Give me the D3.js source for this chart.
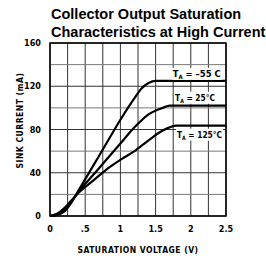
<!DOCTYPE html>
<html>
<head>
<meta charset="utf-8">
<script src="https://cdn.jsdelivr.net/npm/d3@7"></script>
<style>
  body { margin: 0; background: #fff; }
  text { font-family: "Liberation Sans Narrow", "DejaVu Sans Condensed", sans-serif; font-weight: bold; }
  .title { font-family: "Liberation Sans", Arial, sans-serif; }
</style>
</head>
<body>
<div id="chart"></div>
<script>
// values
var volts_m55 = [0, 0.1, 0.2, 0.3, 0.4, 0.6, 0.8, 1.0, 1.2, 1.3, 1.4, 1.5, 2.5];
var amps_m55  = [0, 1, 4, 12, 23, 45, 67, 89, 109, 118, 123, 125, 125];
var volts_25  = [0, 0.1, 0.2, 0.3, 0.4, 0.6, 0.8, 1.0, 1.2, 1.4, 1.6, 1.7, 2.5];
var amps_25   = [0, 1, 5, 13, 22, 37, 52, 67, 82, 94, 100, 102, 102];
var volts_125 = [0, 0.1, 0.2, 0.3, 0.4, 0.6, 0.8, 1.0, 1.2, 1.4, 1.6, 1.8, 2.5];
var amps_125  = [0, 2, 7, 14, 21, 32, 43, 52, 60, 70, 79, 83.5, 83.5];

var xTicks = [0, 0.5, 1, 1.5, 2, 2.5];
var xTickLabels = ["0", ".5", "1", "1.5", "2", "2.5"];
var yTicks = [0, 40, 80, 120, 160];
var seriesNames = ["\u201355  C", "25\u00b0C", "125\u00b0C"];

var margin = {top: 43, right: 40, bottom: 44, left: 50},
    width = 266 - margin.left - margin.right,
    height = 260 - margin.top - margin.bottom;

var svg = d3.select("#chart").append("svg")
    .attr("width", 266)
    .attr("height", 260);

// title
svg.append("text").attr("class", "title")
    .attr("x", 51).attr("y", 19)
    .style("font-size", "14.5px")
    .text("Collector Output Saturation");
svg.append("text").attr("class", "title")
    .attr("x", 51).attr("y", 37)
    .style("font-size", "14.5px")
    .text("Characteristics at High Current");

var g = svg.append("g")
    .attr("transform", "translate(" + margin.left + "," + margin.top + ")");

var x = d3.scaleLinear().domain([0, 2.5]).range([0, width]);
var y = d3.scaleLinear().domain([0, 160]).range([height, 0]);

// grid
g.selectAll(".vgrid")
    .data(d3.range(0, 2.51, 0.25))
    .enter().append("line")
    .attr("x1", function(d) { return x(d); })
    .attr("x2", function(d) { return x(d); })
    .attr("y1", 0).attr("y2", height)
    .style("stroke", "#333").style("stroke-width", 1);

g.selectAll(".hgrid")
    .data(d3.range(0, 161, 20))
    .enter().append("line")
    .attr("y1", function(d) { return y(d); })
    .attr("y2", function(d) { return y(d); })
    .attr("x1", 0).attr("x2", width)
    .style("stroke", function(d) { return d % 40 ? "#777" : "#333"; })
    .style("stroke-width", 1);

g.append("rect")
    .attr("width", width).attr("height", height)
    .style("fill", "none").style("stroke", "#000").style("stroke-width", 1.5);

// curves
var line = d3.line()
    .x(function(d) { return x(d[0]); })
    .y(function(d) { return y(d[1]); })
    .curve(d3.curveMonotoneX);

var series = [
    d3.zip(volts_m55, amps_m55),
    d3.zip(volts_25, amps_25),
    d3.zip(volts_125, amps_125)
];

g.selectAll(".curve")
    .data(series)
    .enter().append("path")
    .attr("d", line)
    .style("fill", "none")
    .style("stroke", "#000")
    .style("stroke-width", 2.2);

// curve labels: [x, y of plateau, baseline offset, text width]
var labelPos = [[1.743, 125, -4, 48], [1.776, 102, -5, 40], [1.804, 83.5, 12, 45]];
labelPos.forEach(function(p, i) {
    var lab = g.append("text")
        .attr("x", x(p[0]))
        .attr("y", y(p[1]) + p[2])
        .attr("textLength", p[3])
        .attr("lengthAdjust", "spacingAndGlyphs")
        .style("font-size", "9.5px");
    lab.append("tspan").text("T");
    lab.append("tspan").attr("dy", 2).style("font-size", "6px").text("A");
    lab.append("tspan").attr("dy", -2).text(" = " + seriesNames[i]);
    var bb = lab.node().getBBox();
    g.insert("rect", function() { return lab.node(); })
        .attr("x", bb.x - 1).attr("y", bb.y)
        .attr("width", bb.width + 2).attr("height", bb.height)
        .style("fill", "#fff");
});

// axes labels
g.selectAll(".xtick")
    .data(xTicks)
    .enter().append("text")
    .attr("x", function(d) { return x(d); })
    .attr("y", height + 16)
    .style("text-anchor", "middle")
    .style("font-size", "9px")
    .text(function(d, i) { return xTickLabels[i]; });

g.selectAll(".ytick")
    .data(yTicks)
    .enter().append("text")
    .attr("x", -9)
    .attr("y", function(d) { return y(d) + 3; })
    .style("text-anchor", "end")
    .style("font-size", "9px")
    .text(function(d) { return d; });

g.append("text")
    .attr("x", width / 2)
    .attr("y", height + 37)
    .style("text-anchor", "middle")
    .style("font-size", "8.5px")
    .style("letter-spacing", "0.5px")
    .text("SATURATION VOLTAGE (V)");

g.append("text")
    .attr("transform", "rotate(-90)")
    .attr("x", -height / 2 + 9)
    .attr("y", -27)
    .style("text-anchor", "middle")
    .style("font-size", "8.5px")
    .style("letter-spacing", "0.5px")
    .text("SINK CURRENT (mA)");
</script>
</body>
</html>
